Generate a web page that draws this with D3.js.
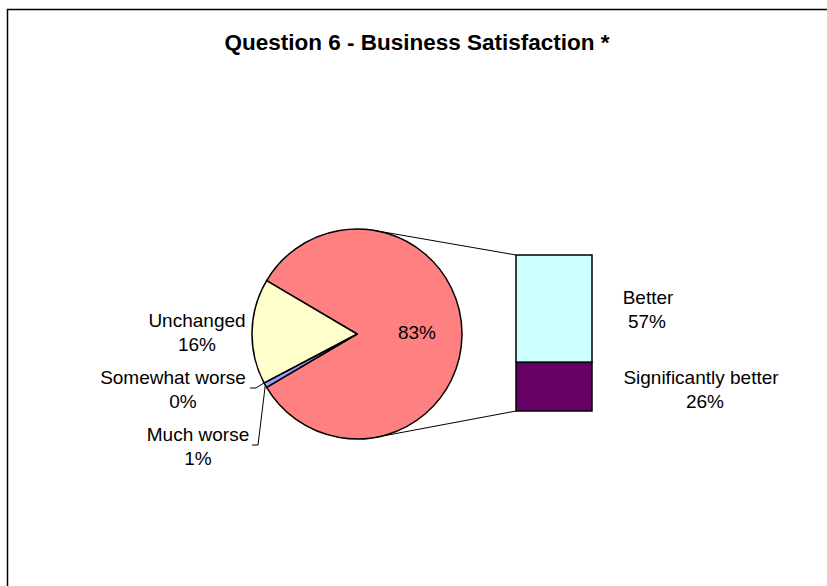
<!DOCTYPE html>
<html>
<head>
<meta charset="utf-8">
<script src="https://cdn.jsdelivr.net/npm/d3@7"></script>
<style>
  body { margin: 0; background: #fff; }
  text { font-family: "Liberation Sans", Arial, sans-serif; fill: #000; }
</style>
</head>
<body>
<div id="chart"></div>
<script>
// data
const pieNames   = ['Much worse', 'Somewhat worse', 'Unchanged'];
const pieValues  = [0.8, 0, 16.2];
const pieColors  = ['#9999FF', '#993366', '#FFFFCC'];
const barNames   = ['Significantly better', 'Better'];
const barValues  = [26, 57];
const barColors  = ['#660066', '#CCFFFF'];
const otherColor = '#FF8080';
const title = 'Question 6 - Business Satisfaction *';

const width = 827;
const height = 586;

const cx = 357, cy = 334, r = 105;
const barX = 516, barW = 76, barTop = 255, barBottom = 411;
const fontSize = '19px';

// label spots (text centre x, first baseline y, second line centre x)
const pieLabelPos = {
    'Unchanged':      [197, 327, 197],
    'Somewhat worse': [173, 384, 183],
    'Much worse':     [198, 441, 198]
};
const barLabelPos = {
    'Better':               [648, 304, 647],
    'Significantly better': [701, 384, 705]
};

const svg = d3.select('#chart').append('svg')
    .attr('width', width)
    .attr('height', height);

// chart frame
svg.append('rect')
    .attr('x', 7.5).attr('y', 9.5)
    .attr('width', 840).attr('height', 600)
    .attr('fill', 'none')
    .attr('stroke', '#000')
    .attr('stroke-width', 1.5);

svg.append('text')
    .attr('x', 417).attr('y', 50)
    .attr('text-anchor', 'middle')
    .style('font-weight', 'bold')
    .style('font-size', '22.5px')
    .text(title);

const total = d3.sum(pieValues) + d3.sum(barValues);
const otherValue = d3.sum(barValues);
const pct = v => Math.round(v / total * 100) + '%';

// pie: "other" slice first, centred on 3 o'clock
const slices = [{name: 'Other', value: otherValue, color: otherColor}]
    .concat(pieNames.map((n, i) => ({name: n, value: pieValues[i], color: pieColors[i]})));

const startA = Math.PI / 2 - Math.PI * otherValue / total;
const pie = d3.pie().sort(null).value(d => d.value)
    .startAngle(startA).endAngle(startA + 2 * Math.PI);
const arc = d3.arc().innerRadius(0).outerRadius(r);
const arcs = pie(slices);

const g = svg.append('g').attr('transform', 'translate(' + cx + ',' + cy + ')');

// connector lines, tangent to the pie, out to the bar corners
[[barTop, -1], [barBottom, 1]].forEach(function(c) {
    const dx = barX - cx, dy = c[0] - cy;
    const d = Math.hypot(dx, dy);
    const a = Math.atan2(dy, dx) + c[1] * Math.acos(r / d);
    svg.append('line')
        .attr('x1', cx + r * Math.cos(a)).attr('y1', cy + r * Math.sin(a))
        .attr('x2', barX).attr('y2', c[0])
        .attr('stroke', '#000').attr('stroke-width', 1);
});

g.selectAll('path')
    .data(arcs)
    .enter()
    .append('path')
    .attr('d', arc)
    .attr('fill', d => d.data.color)
    .attr('stroke', '#000')
    .attr('stroke-width', 1.5)
    .attr('stroke-linejoin', 'round');

// 83% label inside the big slice
g.append('text')
    .attr('x', 60).attr('y', 5)
    .attr('text-anchor', 'middle')
    .style('font-size', fontSize)
    .text(pct(otherValue));

// pie labels
arcs.slice(1).forEach(function(d) {
    const p = pieLabelPos[d.data.name];
    const t = svg.append('text')
        .attr('text-anchor', 'middle')
        .style('font-size', fontSize);
    t.append('tspan').attr('x', p[0]).attr('y', p[1]).text(d.data.name);
    t.append('tspan').attr('x', p[2]).attr('y', p[1] + 23.5).text(pct(d.data.value));
});

// leader lines for the thin slices
['Somewhat worse', 'Much worse'].forEach(function(name) {
    const d = arcs.find(a => a.data.name === name);
    const mid = (d.startAngle + d.endAngle) / 2;
    const ex = cx + r * Math.sin(mid), ey = cy - r * Math.cos(mid);
    const ly = pieLabelPos[name][1] + 4;
    const lx = name === 'Much worse' ? 252 : 250;
    svg.append('polyline')
        .attr('points', [[lx, ly], [lx + 6, ly], [ex, ey]].map(q => q.join(',')).join(' '))
        .attr('fill', 'none')
        .attr('stroke', '#000')
        .attr('stroke-width', 1);
});

// stacked bar
const yScale = d3.scaleLinear().domain([0, otherValue]).range([barBottom, barTop]);
const stack = d3.cumsum(barValues);
svg.selectAll('rect.bar')
    .data(barValues)
    .enter()
    .append('rect')
    .attr('class', 'bar')
    .attr('x', barX)
    .attr('width', barW)
    .attr('y', (d, i) => yScale(stack[i]))
    .attr('height', (d, i) => yScale(stack[i] - d) - yScale(stack[i]))
    .attr('fill', (d, i) => barColors[i])
    .attr('stroke', '#000')
    .attr('stroke-width', 1.5);

barNames.forEach(function(n, i) {
    const p = barLabelPos[n];
    const t = svg.append('text')
        .attr('text-anchor', 'middle')
        .style('font-size', fontSize);
    t.append('tspan').attr('x', p[0]).attr('y', p[1]).text(n);
    t.append('tspan').attr('x', p[2]).attr('y', p[1] + 24).text(pct(barValues[i]));
});
</script>
</body>
</html>
